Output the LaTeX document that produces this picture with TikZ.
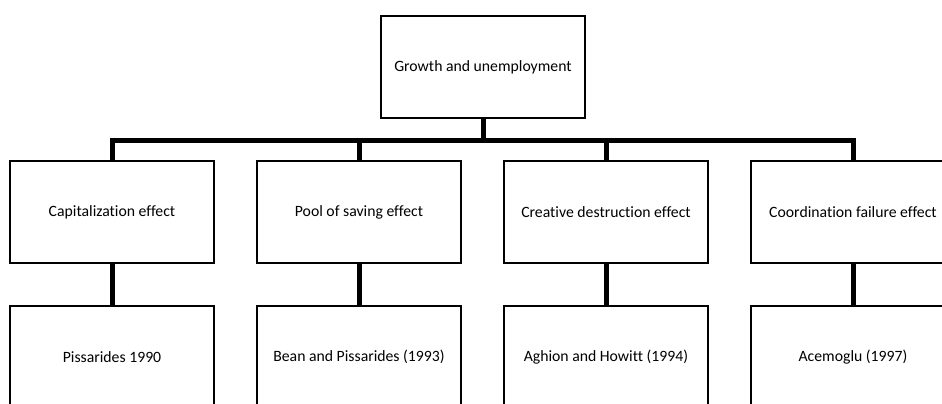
\documentclass[tikz,border=0pt]{standalone}
\usepackage{fontspec}
\setmainfont[Ligatures=NoCommon]{Carlito}
\begin{document}
\begin{tikzpicture}[x=1bp,y=-1bp,
  box/.style={draw=black, line width=1.1bp, fill=white, minimum width=204bp, minimum height=102bp, inner sep=0pt, font=\fontsize{15.8}{19}\selectfont, anchor=center},
  link/.style={line width=5bp, line join=miter}]
\useasboundingbox (0,0) rectangle (942,403);
\clip (0,0) rectangle (942,403);
\node[box] (top) at (483,67) {Growth and unemployment};
\node[box] (a1) at (112,212) {Capitalization effect};
\node[box] (b1) at (359,212) {Pool of saving effect};
\node[box] (c1) at (606,212) {Creative destruction effect};
\node[box] (d1) at (853,212) {Coordination failure effect};
\node[box] (a2) at (112,357) {Pissarides 1990};
\node[box] (b2) at (359,357) {Bean and Pissarides (1993)};
\node[box] (c2) at (606,357) {Aghion and Howitt (1994)};
\node[box] (d2) at (853,357) {Acemoglu (1997)};
\foreach \c in {a1,b1,c1,d1}{
  \draw[link] (top.south) -- ++(0,22) -| (\c.north);
}
\foreach \p/\c in {a1/a2,b1/b2,c1/c2,d1/d2}{
  \draw[link] (\p.south) -- (\c.north);
}
\end{tikzpicture}
\end{document}
